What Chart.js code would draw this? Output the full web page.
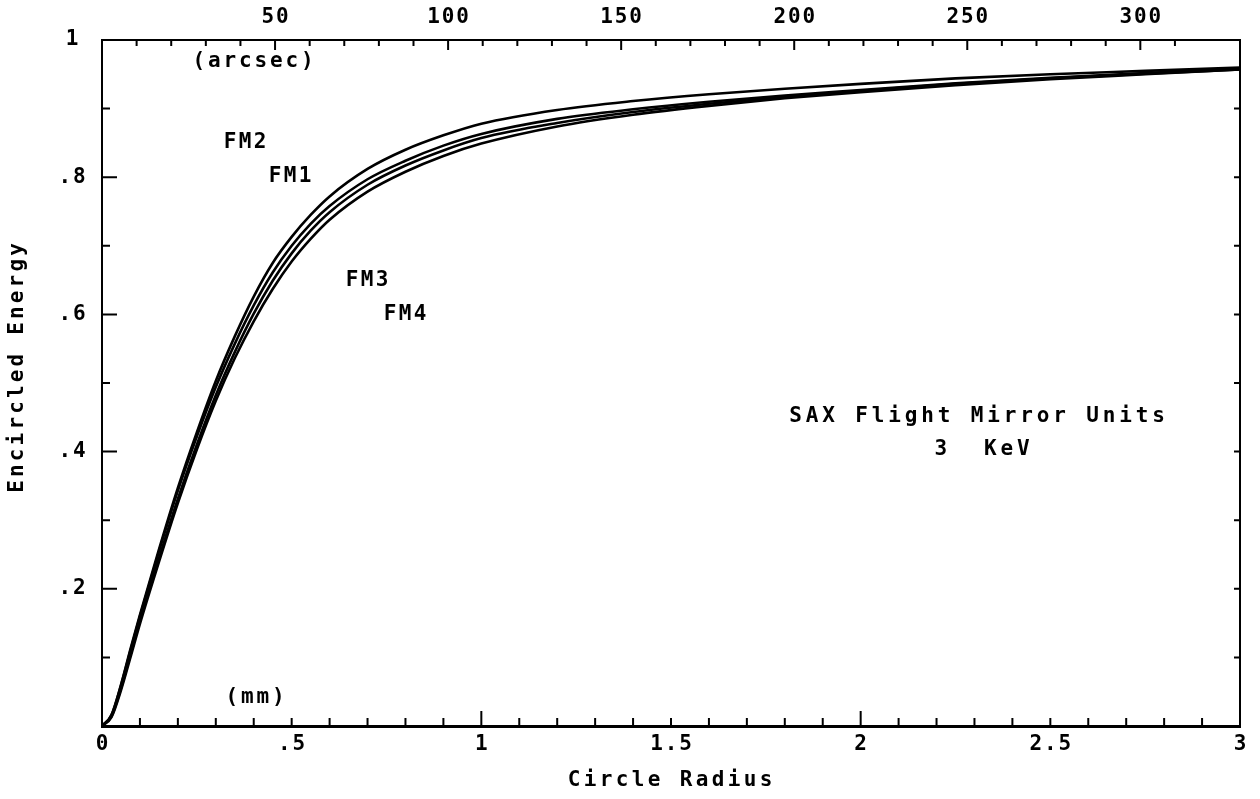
<!DOCTYPE html>
<html>
<head>
<meta charset="utf-8">
<script src="https://cdn.jsdelivr.net/npm/chart.js@4.4.0/dist/chart.umd.min.js"></script>
<style>
  html, body { margin: 0; padding: 0; background: #fff; }
  #wrap { width: 1260px; height: 799px; }
</style>
</head>
<body>
<div id="wrap"><canvas id="eeChart"></canvas></div>
<script>
// circle radius (mm) and encircled energy for each flight mirror unit
var radius = [0, 0.025, 0.05, 0.075, 0.1, 0.15, 0.2, 0.25, 0.3, 0.35, 0.4, 0.45, 0.5, 0.55,
              0.6, 0.7, 0.8, 0.9, 1.0, 1.2, 1.4, 1.6, 1.8, 2.0, 2.25, 2.5, 2.75, 3.0];
var fm2 = [0, 0.016, 0.06, 0.112, 0.162, 0.257, 0.347, 0.428, 0.503, 0.568, 0.626, 0.675, 0.713, 0.745,
           0.772, 0.812, 0.840, 0.861, 0.878, 0.898, 0.911, 0.921, 0.929, 0.936, 0.944, 0.950, 0.955, 0.960];
var fm1 = [0, 0.016, 0.059, 0.11, 0.16, 0.254, 0.343, 0.422, 0.494, 0.557, 0.613, 0.661, 0.70, 0.732,
           0.758, 0.797, 0.824, 0.846, 0.863, 0.885, 0.899, 0.910, 0.919, 0.927, 0.937, 0.945, 0.952, 0.958];
var fm3 = [0, 0.014, 0.055, 0.104, 0.153, 0.244, 0.331, 0.41, 0.482, 0.545, 0.601, 0.649, 0.689, 0.722,
           0.749, 0.789, 0.817, 0.839, 0.857, 0.879, 0.895, 0.907, 0.917, 0.926, 0.936, 0.944, 0.951, 0.957];
var fm4 = [0, 0.013, 0.052, 0.1, 0.149, 0.239, 0.325, 0.403, 0.474, 0.536, 0.59, 0.637, 0.677, 0.71,
           0.738, 0.779, 0.808, 0.831, 0.849, 0.874, 0.891, 0.904, 0.915, 0.924, 0.934, 0.943, 0.950, 0.957];

// tick labels
var mmTicks = [0, 0.5, 1, 1.5, 2, 2.5, 3];
var mmLabels = ['0', '.5', '1', '1.5', '2', '2.5', '3'];
var eeTicks = [0.2, 0.4, 0.6, 0.8, 1];
var eeLabels = ['.2', '.4', '.6', '.8', '1'];
var arcTicks = [50, 100, 150, 200, 250, 300];
var arcLabels = ['50', '100', '150', '200', '250', '300'];

var ARCSEC_PER_MM = 109.6;
var FONT = 'bold 21px "DejaVu Sans Mono", "Liberation Mono", monospace';

function series(ys) {
  return radius.map(function (r, i) { return { x: r, y: ys[i] }; });
}

// fixed-pitch text, like a pen plotter
function plotText(ctx, text, x, y, pitch, align) {
  var w = text.length * pitch;
  var x0 = align === 'center' ? x - w / 2 : (align === 'right' ? x - w : x);
  ctx.textAlign = 'center';
  for (var i = 0; i < text.length; i++) {
    ctx.fillText(text[i], x0 + pitch * (i + 0.5), y);
  }
}

var plotterFrame = {
  id: 'plotterFrame',
  afterDraw: function (chart) {
    var ctx = chart.ctx, a = chart.chartArea;
    var sx = chart.scales.x, sy = chart.scales.y, sx2 = chart.scales.x2, sy2 = chart.scales.y2;
    ctx.save();
    ctx.strokeStyle = '#000';
    ctx.lineWidth = 2;
    ctx.beginPath();
    // inward ticks, bottom
    sx.ticks.forEach(function (t) {
      var p = sx.getPixelForValue(t.value);
      var major = Math.abs(t.value - Math.round(t.value)) < 1e-6;
      ctx.moveTo(p, a.bottom); ctx.lineTo(p, a.bottom - (major ? 15 : 8));
    });
    // top (arcsec)
    sx2.ticks.forEach(function (t) {
      var p = sx2.getPixelForValue(t.value);
      if (p <= a.left + 1 || p >= a.right - 1) return;
      var major = Math.round(t.value) % 50 === 0;
      ctx.moveTo(p, a.top); ctx.lineTo(p, a.top + (major ? 10 : 6));
    });
    // left
    sy.ticks.forEach(function (t) {
      var p = sy.getPixelForValue(t.value);
      var major = Math.round(t.value * 10) % 2 === 0;
      ctx.moveTo(a.left, p); ctx.lineTo(a.left + (major ? 15 : 8), p);
    });
    // right
    sy2.ticks.forEach(function (t) {
      var p = sy2.getPixelForValue(t.value);
      ctx.moveTo(a.right, p); ctx.lineTo(a.right - 6, p);
    });
    ctx.stroke();

    ctx.fillStyle = '#000';
    ctx.font = FONT;
    ctx.textBaseline = 'middle';
    mmTicks.forEach(function (v, i) {
      plotText(ctx, mmLabels[i], sx.getPixelForValue(v), 745, 14.5, 'center');
    });
    arcTicks.forEach(function (v, i) {
      plotText(ctx, arcLabels[i], sx2.getPixelForValue(v), 18, 14.5, 'center');
    });
    eeTicks.forEach(function (v, i) {
      plotText(ctx, eeLabels[i], 72, sy.getPixelForValue(v), 14.5, 'center');
    });

    plotText(ctx, '(arcsec)', 253, 62, 15.5, 'center');
    plotText(ctx, '(mm)', 255, 698, 15.5, 'center');
    plotText(ctx, 'FM2', 245, 143, 15, 'center');
    plotText(ctx, 'FM1', 290, 177, 15, 'center');
    plotText(ctx, 'FM3', 367, 281, 15, 'center');
    plotText(ctx, 'FM4', 405, 315, 15, 'center');
    plotText(ctx, 'SAX Flight Mirror Units', 977, 417, 16.5, 'center');
    plotText(ctx, '3  KeV', 982, 450, 16.5, 'center');

    plotText(ctx, 'Circle Radius', 670, 781, 16, 'center');
    ctx.translate(18, 368);
    ctx.rotate(-Math.PI / 2);
    plotText(ctx, 'Encircled Energy', 0, 0, 15.8, 'center');
    ctx.restore();
  }
};

function frameAxis(pos, min, max, step, width) {
  return {
    type: 'linear', position: pos, min: min, max: max,
    ticks: { display: false, stepSize: step },
    grid: { display: false, drawTicks: false },
    border: { display: true, color: '#000', width: width }
  };
}

var lineStyle = { borderColor: '#000', borderWidth: 2.6, pointRadius: 0, fill: false,
                  cubicInterpolationMode: 'monotone' };

new Chart(document.getElementById('eeChart'), {
  type: 'line',
  data: {
    datasets: [
      Object.assign({ label: 'FM1', data: series(fm1) }, lineStyle),
      Object.assign({ label: 'FM2', data: series(fm2) }, lineStyle),
      Object.assign({ label: 'FM3', data: series(fm3) }, lineStyle),
      Object.assign({ label: 'FM4', data: series(fm4) }, lineStyle)
    ]
  },
  options: {
    responsive: true,
    maintainAspectRatio: false,
    animation: false,
    layout: { padding: { left: 102, right: 20, top: 40, bottom: 73 } },
    plugins: { legend: { display: false }, tooltip: { enabled: false } },
    scales: {
      x: frameAxis('bottom', 0, 3, 0.1, 3),
      x2: frameAxis('top', 0, 3 * ARCSEC_PER_MM, 10, 2),
      y: frameAxis('left', 0, 1, 0.1, 2),
      y2: frameAxis('right', 0, 1, 0.1, 2)
    }
  },
  plugins: [plotterFrame]
});
</script>
</body>
</html>
